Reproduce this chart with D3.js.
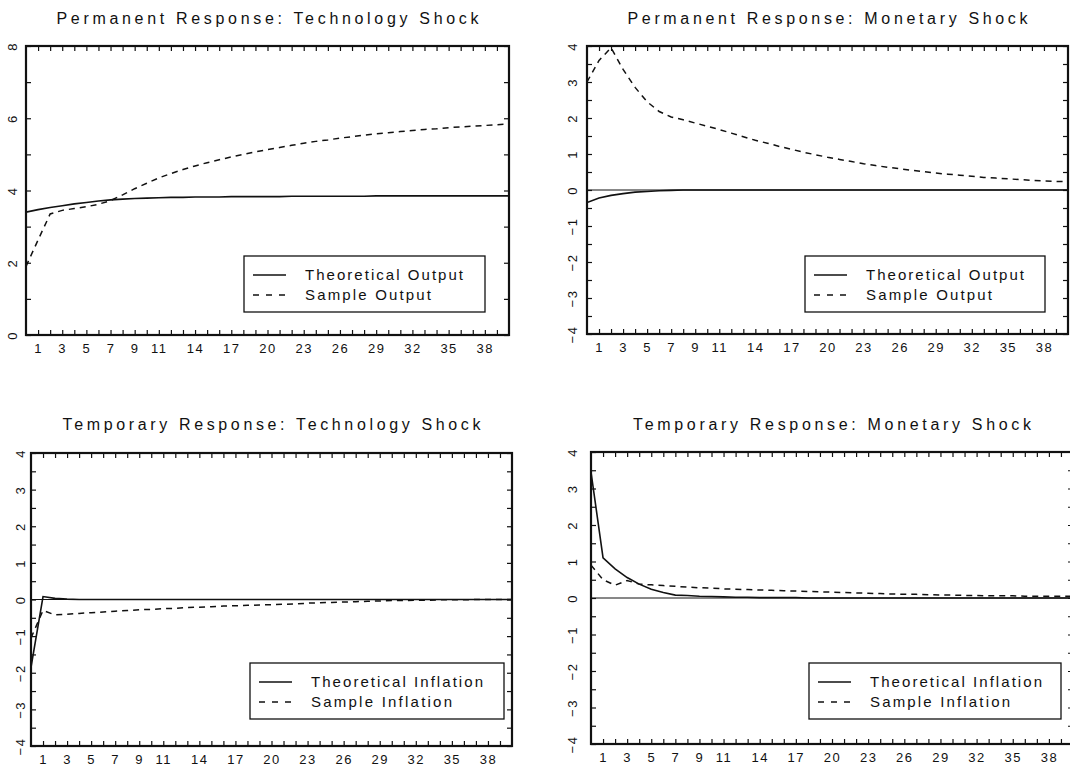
<!DOCTYPE html>
<html><head><meta charset="utf-8">
<script src="https://cdn.jsdelivr.net/npm/d3@7"></script>
<style>body{margin:0;background:#fff;} svg{display:block;}</style>
</head><body>
<svg id="c" width="1070" height="768"></svg>
<script>
// ---------------- data ----------------
const periods = d3.range(0, 41);
const xTickLabels = [1, 3, 5, 7, 9, 11, 14, 17, 20, 23, 26, 29, 32, 35, 38];
const titles = [
  "Permanent Response: Technology Shock",
  "Permanent Response: Monetary Shock",
  "Temporary Response: Technology Shock",
  "Temporary Response: Monetary Shock"
];
const legendOutput = ["Theoretical Output", "Sample Output"];
const legendInflation = ["Theoretical Inflation", "Sample Inflation"];
const yLabelsOutputTech = [0, 2, 4, 6, 8];
const yLabelsOther = [-4, -3, -2, -1, 0, 1, 2, 3, 4];

const techOutputTheory = [3.40, 3.47, 3.53, 3.58, 3.63, 3.67, 3.71, 3.74, 3.76, 3.78,
  3.79, 3.80, 3.81, 3.81, 3.82, 3.82, 3.82, 3.83, 3.83, 3.83,
  3.83, 3.83, 3.84, 3.84, 3.84, 3.84, 3.84, 3.84, 3.84, 3.85,
  3.85, 3.85, 3.85, 3.85, 3.85, 3.85, 3.85, 3.85, 3.85, 3.85, 3.85];
const techOutputSample = [1.90, 2.63, 3.35, 3.45, 3.50, 3.55, 3.62, 3.72, 3.88, 4.05,
  4.20, 4.35, 4.47, 4.58, 4.68, 4.77, 4.85, 4.93, 5.00, 5.07,
  5.13, 5.19, 5.25, 5.31, 5.36, 5.40, 5.45, 5.49, 5.53, 5.57,
  5.60, 5.63, 5.66, 5.69, 5.71, 5.74, 5.76, 5.78, 5.80, 5.82, 5.84];
const monOutputTheory = [-0.35, -0.22, -0.15, -0.10, -0.06, -0.04, -0.02, -0.01, 0, 0,
  0, 0, 0, 0, 0, 0, 0, 0, 0, 0,
  0, 0, 0, 0, 0, 0, 0, 0, 0, 0,
  0, 0, 0, 0, 0, 0, 0, 0, 0, 0, 0];
const monOutputSample = [3.00, 3.60, 3.95, 3.35, 2.85, 2.45, 2.18, 2.03, 1.95, 1.86,
  1.77, 1.68, 1.58, 1.48, 1.38, 1.30, 1.21, 1.13, 1.05, 0.98,
  0.91, 0.85, 0.79, 0.73, 0.68, 0.63, 0.59, 0.55, 0.51, 0.47,
  0.44, 0.41, 0.38, 0.35, 0.33, 0.31, 0.29, 0.27, 0.25, 0.24, 0.23];
const techInflTheory = [-1.85, 0.08, 0.03, 0.01, 0, 0, 0, 0, 0, 0,
  0, 0, 0, 0, 0, 0, 0, 0, 0, 0,
  0, 0, 0, 0, 0, 0, 0, 0, 0, 0,
  0, 0, 0, 0, 0, 0, 0, 0, 0, 0, 0];
const techInflSample = [-1.05, -0.30, -0.42, -0.40, -0.38, -0.36, -0.34, -0.32, -0.30, -0.28,
  -0.27, -0.25, -0.24, -0.22, -0.21, -0.20, -0.18, -0.17, -0.16, -0.15,
  -0.14, -0.13, -0.12, -0.10, -0.09, -0.08, -0.07, -0.06, -0.05, -0.04,
  -0.03, -0.03, -0.02, -0.02, -0.01, -0.01, -0.01, 0, 0, 0, 0];
const monInflTheory = [3.45, 1.10, 0.80, 0.56, 0.38, 0.24, 0.15, 0.08, 0.07, 0.05,
  0.04, 0.03, 0.02, 0.02, 0.01, 0.01, 0.01, 0.01, 0, 0,
  0, 0, 0, 0, 0, 0, 0, 0, 0, 0,
  0, 0, 0, 0, 0, 0, 0, 0, 0, 0, 0];
const monInflSample = [0.90, 0.50, 0.35, 0.48, 0.38, 0.36, 0.34, 0.32, 0.30, 0.28,
  0.27, 0.25, 0.24, 0.23, 0.22, 0.21, 0.20, 0.19, 0.18, 0.17,
  0.16, 0.15, 0.14, 0.13, 0.12, 0.11, 0.10, 0.10, 0.09, 0.08,
  0.08, 0.07, 0.07, 0.06, 0.06, 0.06, 0.05, 0.05, 0.05, 0.05, 0.05];

// ---------------- layout ----------------
const FONT = "'Liberation Sans', Arial, 'DejaVu Sans', sans-serif";
const INK = "#111";
const panels = [
  { title: titles[0], theory: techOutputTheory, sample: techOutputSample, yDomain: [0, 8],
    yLabels: yLabelsOutputTech, yStep: 1, legend: legendOutput, zero: false,
    x0: 26, x1: 509, y0: 46, y1: 335, titleY: 24, titleW: 422, yLabOff: 9,
    lg: { x: 244, y: 256, w: 241, h: 56, tw: [158, 126] } },
  { title: titles[1], theory: monOutputTheory, sample: monOutputSample, yDomain: [-4, 4],
    yLabels: yLabelsOther, yStep: 0.5, legend: legendOutput, zero: true,
    x0: 587, x1: 1068, y0: 46, y1: 334, titleY: 24, titleW: 400, yLabOff: 10,
    lg: { x: 805, y: 256, w: 240, h: 56, tw: [158, 126] } },
  { title: titles[2], theory: techInflTheory, sample: techInflSample, yDomain: [-4, 4],
    yLabels: yLabelsOther, yStep: 0.5, legend: legendInflation, zero: true,
    x0: 31, x1: 512, y0: 453, y1: 746, titleY: 430, titleW: 418, yLabOff: 6,
    lg: { x: 250, y: 663, w: 254, h: 56, tw: [172, 141] } },
  { title: titles[3], theory: monInflTheory, sample: monInflSample, yDomain: [-4, 4],
    yLabels: yLabelsOther, yStep: 0.5, legend: legendInflation, zero: true,
    x0: 591, x1: 1073, y0: 452, y1: 744, titleY: 430, titleW: 398, yLabOff: 14,
    lg: { x: 809, y: 663, w: 252, h: 56, tw: [172, 140] } }
];

const svg = d3.select("#c");
svg.append("rect").attr("width", 1070).attr("height", 768).attr("fill", "#fff");

panels.forEach((p, i) => {
  const x = d3.scaleLinear().domain([0, 40]).range([p.x0, p.x1]);
  const y = d3.scaleLinear().domain(p.yDomain).range([p.y1, p.y0]);
  const g = svg.append("g");

  // title
  g.append("text")
    .attr("x", (p.x0 + p.x1) / 2).attr("y", p.titleY)
    .attr("text-anchor", "middle")
    .attr("font-family", FONT).attr("font-size", 16).attr("fill", INK)
    .attr("textLength", p.titleW).attr("lengthAdjust", "spacing")
    .text(p.title);

  // clip
  const cid = "clip" + i;
  svg.append("clipPath").attr("id", cid).append("rect")
    .attr("x", p.x0).attr("y", p.y0).attr("width", p.x1 - p.x0).attr("height", p.y1 - p.y0);

  // zero line
  if (p.zero) {
    g.append("line")
      .attr("x1", p.x0).attr("x2", p.x1).attr("y1", y(0)).attr("y2", y(0))
      .attr("stroke", INK).attr("stroke-width", 1);
  }

  // axes ticks (inward)
  const xTicks = d3.range(1, 40);
  const yTicks = d3.range(p.yDomain[0], p.yDomain[1] + 0.001, p.yStep);
  const xb = g.append("g").attr("transform", `translate(0,${p.y1})`)
    .call(d3.axisBottom(x).tickValues(xTicks).tickSizeInner(-5).tickSizeOuter(0)
      .tickFormat(d => xTickLabels.includes(d) ? String(d) : ""));
  xb.select(".domain").remove();
  xb.selectAll("line").attr("stroke", INK).attr("stroke-width", 1.2);
  xb.selectAll("text").attr("y", 18).attr("dy", null)
    .attr("font-family", FONT).attr("font-size", 13).attr("fill", INK)
    .attr("letter-spacing", 1.5);

  const xt = g.append("g").attr("transform", `translate(0,${p.y0})`)
    .call(d3.axisTop(x).tickValues(xTicks).tickSizeInner(-5).tickSizeOuter(0).tickFormat(""));
  xt.select(".domain").remove();
  xt.selectAll("line").attr("stroke", INK).attr("stroke-width", 1.2);

  const yl = g.append("g").attr("transform", `translate(${p.x0},0)`)
    .call(d3.axisLeft(y).tickValues(yTicks).tickSizeInner(-5).tickSizeOuter(0)
      .tickFormat(d => p.yLabels.includes(d) ? String(d).replace("-", "\u2212") : ""));
  yl.select(".domain").remove();
  yl.selectAll("line").attr("stroke", INK).attr("stroke-width", 1.2);
  yl.selectAll("text")
    .attr("x", null).attr("dy", null)
    .attr("text-anchor", "middle")
    .attr("transform", `translate(${-p.yLabOff},0) rotate(-90)`)
    .attr("font-family", FONT).attr("font-size", 13).attr("fill", INK)
    .attr("letter-spacing", 1.5);

  const yr = g.append("g").attr("transform", `translate(${p.x1},0)`)
    .call(d3.axisRight(y).tickValues(yTicks).tickSizeInner(-5).tickSizeOuter(0).tickFormat(""));
  yr.select(".domain").remove();
  yr.selectAll("line").attr("stroke", INK).attr("stroke-width", 1.2);

  // series
  const line = d3.line().x((d, k) => x(periods[k])).y(d => y(d));
  const lines = g.append("g").attr("clip-path", `url(#${cid})`);
  lines.append("path").datum(p.sample).attr("d", line)
    .attr("fill", "none").attr("stroke", INK).attr("stroke-width", 1.5)
    .attr("stroke-dasharray", "6,5");
  lines.append("path").datum(p.theory).attr("d", line)
    .attr("fill", "none").attr("stroke", INK).attr("stroke-width", 1.6);

  // border
  g.append("rect")
    .attr("x", p.x0).attr("y", p.y0).attr("width", p.x1 - p.x0).attr("height", p.y1 - p.y0)
    .attr("fill", "none").attr("stroke", INK).attr("stroke-width", 2.2);

  // legend
  const L = p.lg;
  const lg = g.append("g");
  lg.append("rect").attr("x", L.x).attr("y", L.y).attr("width", L.w).attr("height", L.h)
    .attr("fill", "#fff").attr("stroke", INK).attr("stroke-width", 1.3);
  [0, 1].forEach(r => {
    const cy = L.y + 19 + r * 20;
    lg.append("line").attr("x1", L.x + 9).attr("x2", L.x + 42).attr("y1", cy).attr("y2", cy)
      .attr("stroke", INK).attr("stroke-width", 1.5)
      .attr("stroke-dasharray", r === 0 ? null : "6,7");
    lg.append("text").attr("x", L.x + 61).attr("y", cy + 5)
      .attr("font-family", FONT).attr("font-size", 15).attr("fill", INK)
      .attr("textLength", L.tw[r]).attr("lengthAdjust", "spacing")
      .text(p.legend[r]);
  });
});
</script>
</body></html>
